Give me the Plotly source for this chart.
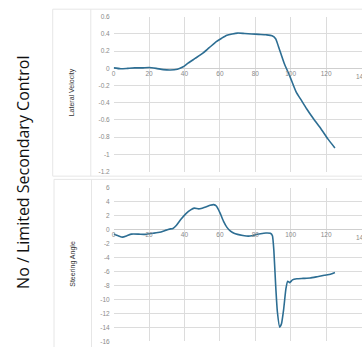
import plotly.graph_objects as go

W, H = 362, 347

# Lateral velocity over time
lat_t = [0, 4, 8, 12, 16, 20, 24, 28, 32, 36, 39, 42, 46, 50, 54, 58, 61, 64, 67, 70,
         74, 78, 82, 86, 89.5, 91.5, 93, 94.5, 96.5, 99.5, 103, 106, 109, 113, 117, 121, 125]
lat_v = [0.005, -0.005, 0.0, 0.005, 0.005, 0.01, 0.0, -0.015, -0.02, -0.01, 0.015, 0.06,
         0.115, 0.17, 0.24, 0.31, 0.35, 0.385, 0.40, 0.41, 0.405, 0.40, 0.395, 0.39, 0.38,
         0.345, 0.26, 0.17, 0.05, -0.09, -0.27, -0.37, -0.47, -0.59, -0.70, -0.82, -0.925]

# Steering angle over time
steer_t = [0, 2.5, 5, 7.5, 10, 14, 18, 22, 26, 29, 31.5, 33.5, 35.5, 38, 41, 43.5, 45.5,
           48, 50, 52, 54.5, 56.5, 58, 60, 62, 64, 66, 68, 70, 73, 76, 78, 80, 83, 86,
           88.5, 89.7, 90.5, 91.5, 92.5, 93.8, 94.8, 96, 97.3, 98.3, 99.5, 101, 103.5,
           107, 111, 115, 119, 122.5, 125]
steer_v = [-0.66, -0.9, -1.1, -0.9, -0.66, -0.66, -0.7, -0.55, -0.4, -0.15, 0.05, 0.15,
           0.6, 1.45, 2.3, 2.8, 3.05, 2.95, 3.05, 3.2, 3.45, 3.55, 3.35, 2.4, 1.2, 0.3,
           -0.25, -0.55, -0.7, -0.85, -0.95, -0.9, -0.75, -0.6, -0.5, -0.55, -0.9, -3,
           -7.9, -11.8, -13.96, -13.5, -11.5, -8.5, -7.4, -7.6, -7.2, -7.05, -7.0, -6.95,
           -6.75, -6.55, -6.4, -6.15]

x_ticks = [0, 20, 40, 60, 80, 100, 120, 140]
lat_ticks = [0.6, 0.4, 0.2, 0, -0.2, -0.4, -0.6, -0.8, -1, -1.2]
lat_labels = ["0.6", "0.4", "0.2", "0", "-0.2", "-0.4", "-0.6", "-0.8", "-1", "-1.2"]
steer_ticks = [6, 4, 2, 0, -2, -4, -6, -8, -10, -12, -14, -16]
steer_labels = [str(v) for v in steer_ticks]

LINE = "#2d6e93"
GRID = "#dcdcdc"
BOX = "#e6e6e6"
TICKFONT = dict(family="Liberation Sans, Arial, sans-serif", size=6.5, color="#8a8a8a")


def px(x):
    return x / W


def py(y):
    return 1 - y / H


fig = go.Figure()
fig.add_trace(go.Scatter(x=lat_t, y=lat_v, mode="lines", xaxis="x", yaxis="y",
                         line=dict(color=LINE, width=1.6, shape="spline", smoothing=0.6),
                         showlegend=False))
fig.add_trace(go.Scatter(x=steer_t, y=steer_v, mode="lines", xaxis="x2", yaxis="y2",
                         line=dict(color=LINE, width=1.6, shape="spline", smoothing=0.4),
                         showlegend=False))

x_dom = [px(112.3), 1]
common_x = dict(range=[0, 140.3], tickvals=x_ticks, ticktext=[str(v) for v in x_ticks],
                showgrid=True, gridcolor=GRID, gridwidth=1, zeroline=False, ticks="",
                showline=False, tickfont=TICKFONT, anchor="free", domain=x_dom)
common_y = dict(showgrid=True, gridcolor=GRID, gridwidth=1, zeroline=True,
                zerolinecolor="#cfcfcf", zerolinewidth=1, ticks="", showline=False,
                tickfont=TICKFONT, ticklabelstandoff=3)

fig.update_layout(
    width=W, height=H,
    margin=dict(l=0, r=0, t=0, b=0),
    paper_bgcolor="white", plot_bgcolor="white",
    xaxis=dict(**common_x, position=py(66.2)),
    yaxis=dict(**common_y, range=[-1.2, 0.6], tickvals=lat_ticks, ticktext=lat_labels,
               domain=[py(171), py(13)]),
    xaxis2=dict(**common_x, position=py(230.3)),
    yaxis2=dict(**common_y, range=[-16, 6], tickvals=steer_ticks, ticktext=steer_labels,
                domain=[py(344.3), py(187.3)]),
)
fig.update_layout(yaxis=dict(anchor="x"), yaxis2=dict(anchor="x2"))

# Table-like frames around each panel
shapes = []
for (left, inner, top, bottom) in [(51, 89.3, 5.3, 175.7), (52.3, 90, 179, 352)]:
    shapes.append(dict(type="rect", xref="paper", yref="paper",
                       x0=px(left), x1=px(370), y0=py(bottom), y1=py(top),
                       line=dict(color=BOX, width=1), layer="below"))
    shapes.append(dict(type="line", xref="paper", yref="paper",
                       x0=px(inner), x1=px(inner), y0=py(bottom), y1=py(top),
                       line=dict(color=BOX, width=1), layer="below"))
fig.update_layout(shapes=shapes)

# Last x tick label sits on the right edge of the page
for xa, zero_px in [("x", 66.2), ("x2", 230.3)]:
    fig.add_annotation(text=str(x_ticks[-1]), x=x_ticks[-1], xref=xa,
                       y=py(zero_px + 2), yref="paper", xanchor="center", yanchor="top",
                       showarrow=False, font=TICKFONT)

title_font = dict(family="Liberation Sans, Arial, sans-serif", size=7, color="#333333")
label_kw = dict(xref="paper", yref="paper", textangle=-90, showarrow=False,
                xanchor="center", yanchor="middle")
fig.add_annotation(text="Lateral Velocity", x=px(70), y=py(90.5), font=title_font, **label_kw)
fig.add_annotation(text="Steering Angle", x=px(71.5), y=py(265), font=title_font, **label_kw)
fig.add_annotation(text="No / Limited Secondary Control", x=px(20.5), y=py(172),
                   font=dict(family="Open Sans, sans-serif", size=16, color="#111111"),
                   **label_kw)

fig.write_html("out.html")
